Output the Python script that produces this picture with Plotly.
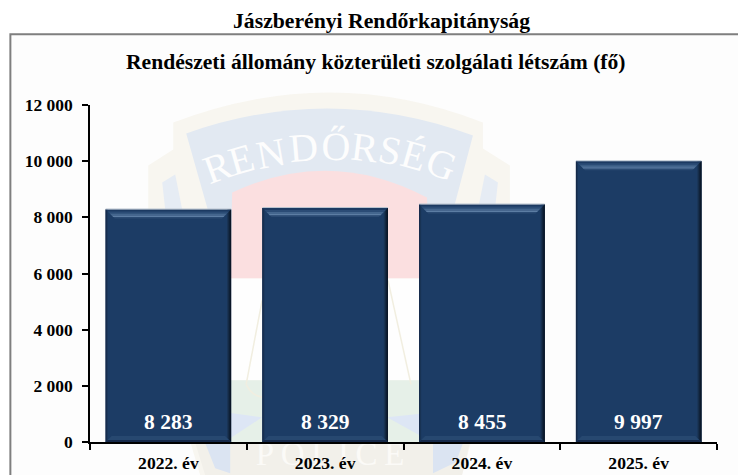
import plotly.graph_objects as go

# ---- data ----
categories = ["2022. év", "2023. év", "2024. év", "2025. év"]
values = [8283, 8329, 8455, 9997]
y_ticks = [0, 2000, 4000, 6000, 8000, 10000, 12000]
y_tick_labels = ["0", "2 000", "4 000", "6 000", "8 000", "10 000", "12 000"]
main_title = "Jászberényi Rendőrkapitányság"
sub_title = "Rendészeti állomány közterületi szolgálati létszám (fő)"

# ---- layout constants (pixels) ----
W, H = 738, 475
L, R, T, B = 89.7, 717.3, 104.5, 441.7
FONT = "Liberation Serif"
GAP = 0.2
PX_X = 4 / (R - L)
PX_Y = 12000 / (B - T)


def X(p):
    return round((p - L) / (R - L), 5)


def Y(p):
    return round((B - p) / (B - T), 5)


def path(*cmds):
    out = []
    for c in cmds:
        if len(c) == 1:
            out.append(c[0])
        elif c[0] == "L":
            out.extend(f"L{X(c[i])},{Y(c[i+1])}" for i in range(1, len(c), 2))
        else:
            out.append(c[0] + ",".join(f"{X(c[i])},{Y(c[i+1])}" for i in range(1, len(c), 2)))
    return " ".join(out)


shapes = []


def wm(d, fill, line=None, lw=1):
    shapes.append(dict(type="path", xref="paper", yref="paper", path=d, layer="below",
                       fillcolor=fill, line=dict(color=line or fill, width=lw if line else 0)))


# page frame
shapes.append(dict(type="rect", xref="paper", yref="paper", x0=X(10), x1=X(760), y0=Y(33.7), y1=Y(490),
                   fillcolor="#fdfdfd", line=dict(color="#7f7f7f", width=2), layer="below"))

# watermark: shield
wm(path(("M", 148, 165), ("L", 173, 149, 173, 122), ("Q", 330, 62, 483, 122), ("L", 483, 148, 510, 165, 510, 300, 462, 475, 200, 475, 148, 300), ("Z",)), "#f8f6f0")
wm(path(("M", 162, 182), ("L", 175, 174, 200, 300, 215, 400, 175, 300), ("Z",)), "#e6ecf4")
wm(path(("M", 498, 182), ("L", 485, 174, 460, 300, 445, 400, 485, 300), ("Z",)), "#e6ecf4")
wm(path(("M", 186, 133), ("Q", 330, 82, 473, 135), ("L", 440, 260, 222, 260), ("Z",)), "#e2e9f2")
wm(path(("M", 232, 192), ("Q", 330, 146, 427, 197), ("L", 430, 278, 230, 278), ("Z",)), "#fbdfe0")
wm(path(("M", 225, 278), ("L", 435, 278, 435, 380, 225, 380), ("Z",)), "#fefefe")
wm(path(("M", 225, 380), ("L", 435, 380, 435, 442, 225, 442), ("Z",)), "#e6f0e8")
wm(path(("M", 225, 412), ("L", 262, 417, 230, 438), ("Z",)), "#dde6f5")
wm(path(("M", 435, 412), ("L", 387, 417, 425, 438), ("Z",)), "#dde6f5")
wm(path(("M", 262, 300), ("L", 246, 384)), "#f1eee0", "#f1eee0", 1.5)
wm(path(("M", 388, 280), ("L", 411, 384)), "#f1eee0", "#f1eee0", 1.5)
wm(path(("M", 246, 384), ("Q", 255, 402, 275, 395)), "#e6f0e8", "#f1eee0", 1.5)
wm(path(("M", 195, 442.5), ("L", 470, 442.5, 462, 475, 205, 475), ("Z",)), "#f2f0ea")
wm(path(("M", 205, 443), ("L", 230, 443, 230, 473, 215, 468), ("Z",)), "#dbe4f2")
wm(path(("M", 433, 443), ("L", 463, 443, 456, 462, 433, 473), ("Z",)), "#dbe4f2")

# watermark lettering: real text, under the chart layers
arc_letters = [("R", 216, 163, -20), ("E", 240, 155, -16), ("N", 270, 149, -10), ("D", 303, 143, -5),
               ("Ő", 336, 142, 1), ("R", 365, 143, 7), ("S", 391, 146, 12), ("É", 415, 151, 16), ("G", 443, 160, 21)]
for ch, cx, cy, ang in arc_letters:
    shapes.append(dict(type="rect", xref="paper", yref="paper", x0=X(cx - 20), x1=X(cx + 20), y0=Y(cy + 25), y1=Y(cy - 25),
                       layer="below", line=dict(width=0), fillcolor="rgba(0,0,0,0)",
                       label=dict(text=ch, textangle=ang, textposition="middle center",
                                  font=dict(family=FONT, size=40, color="#fdfdfd"))))
shapes.append(dict(type="rect", xref="paper", yref="paper", x0=X(230), x1=X(430), y0=Y(474), y1=Y(426),
                   layer="below", line=dict(width=0), fillcolor="rgba(0,0,0,0)",
                   label=dict(text="\u2009".join("POLICE"), textposition="middle center",
                              font=dict(family=FONT, size=33, color="#fbfaf7"))))

# bevels on each bar, derived from its value
half = (1 - GAP) / 2
for i, v in enumerate(values):
    xl, xr = i - half, i + half

    def trap(x0a, x1a, ya, x0b, x1b, yb, color):
        shapes.append(dict(type="path", xref="x", yref="y", layer="above", fillcolor=color, line=dict(width=0),
                           path=f"M{x0a},{ya} L{x1a},{ya} L{x1b},{yb} L{x0b},{yb} Z"))

    # side shading
    for n, c in [(4, "#1a3555"), (3, "#142a45"), (2, "#0f2036"), (1, "#0a1626")]:
        trap(xr - n * PX_X, xr, v, xr - n * PX_X, xr, 0, c)
    for n, c in [(2, "#1a3557"), (1, "#15294a")]:
        trap(xl, xl + n * PX_X, v, xl, xl + n * PX_X, 0, c)
    # top bevel bands, dark to light
    steps = [(0, 2, "#1c3a62"), (2, 4, "#2b4c76"), (4, 6, "#44668e"), (6, 7.5, "#5c7da3"), (7.5, 9, "#2a4a73")]
    for a, b, c in steps:
        trap(xl + a * PX_X, xr - a * PX_X, v - a * PX_Y, xl + b * PX_X, xr - b * PX_X, v - b * PX_Y, c)
    trap(xl, xr, v + 1 * PX_Y, xl, xr, v, "#b9c3cf")
    # bottom bevel
    trap(xl, xr, 0, xl + 6 * PX_X, xr - 6 * PX_X, 6 * PX_Y, "#274870")
    trap(xl, xr, 0, xl + 2 * PX_X, xr - 2 * PX_X, 2 * PX_Y, "#16294a")

annotations = [
    dict(text=f"<b>{main_title}</b>", xref="paper", yref="paper", x=X(381.5), y=Y(22), showarrow=False, yshift=1.5,
         font=dict(family=FONT, size=21.7, color="#000000"), xanchor="center", yanchor="middle"),
    dict(text=f"<b>{sub_title}</b>", xref="paper", yref="paper", x=X(376), y=Y(61), showarrow=False,
         font=dict(family=FONT, size=21.6, color="#000000"), xanchor="center", yanchor="middle"),
]
for c, v in zip(categories, values):
    s = f"{v:,}".replace(",", "\u00a0")
    annotations.append(dict(text=f"<b>{s}</b>", x=c, y=0, xref="x", yref="y", yshift=20, showarrow=False,
                            font=dict(family=FONT, size=21.5, color="#ffffff"), xanchor="center", yanchor="middle"))

fig = go.Figure(go.Bar(x=categories, y=values, marker=dict(color="#1c3c65", line=dict(width=0)), hoverinfo="x+y"))

fig.update_layout(
    width=W, height=H, autosize=False, showlegend=False, bargap=GAP,
    margin=dict(l=L, r=W - R, t=T, b=H - B, pad=0, autoexpand=False),
    paper_bgcolor="#ffffff", plot_bgcolor="rgba(0,0,0,0)",
    shapes=shapes, annotations=annotations,
    font=dict(family=FONT, color="#000000"),
    xaxis=dict(type="category", categoryorder="array", categoryarray=categories, tickson="boundaries",
               ticks="outside", ticklen=6, tickwidth=1.5, tickcolor="#000000", showline=True, linecolor="#000000",
               linewidth=1.5, showgrid=False, zeroline=False, ticklabelstandoff=4,
               tickfont=dict(family=FONT, size=17.6, color="#000000", weight="bold")),
    yaxis=dict(range=[0, 12000], tickmode="array", tickvals=y_ticks, ticktext=y_tick_labels,
               ticks="outside", ticklen=6, tickwidth=1.5, tickcolor="#000000", showline=True, linecolor="#000000",
               linewidth=1.5, showgrid=False, zeroline=False, ticklabelstandoff=6,
               tickfont=dict(family=FONT, size=17.5, color="#000000", weight="bold")),
)

fig.write_html("out.html", config=dict(displayModeBar=False),
               post_script="document.body.style.margin='0';document.body.style.overflow='hidden';")
